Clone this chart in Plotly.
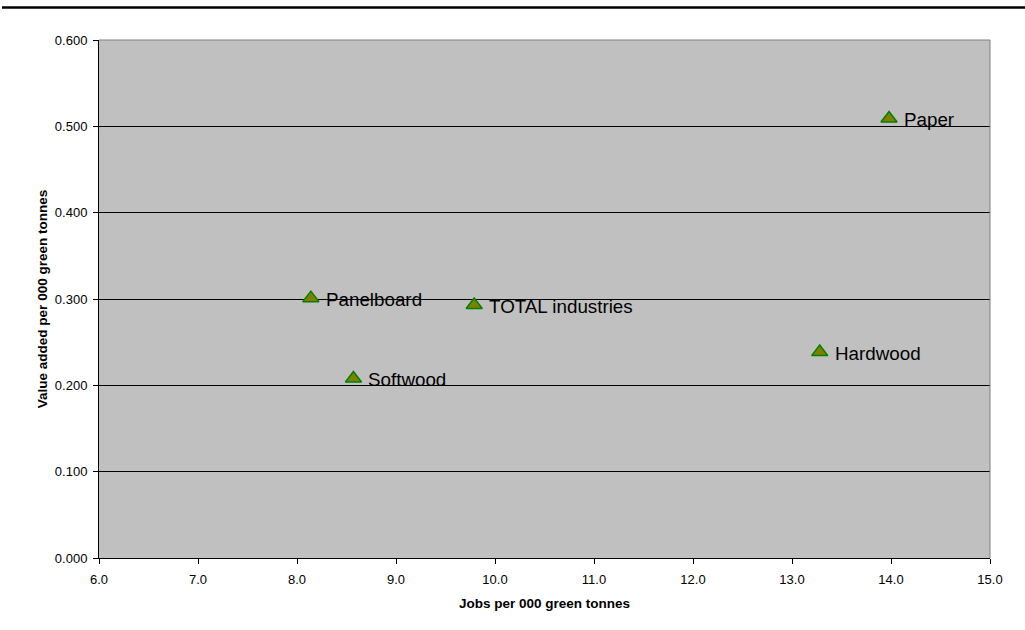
import plotly.graph_objects as go

# Data
labels = ["Paper", "Panelboard", "TOTAL industries", "Softwood", "Hardwood"]
jobs = [13.98, 8.14, 9.79, 8.57, 13.28]
value_added = [0.509, 0.301, 0.293, 0.208, 0.2385]

x_ticks = [6.0, 7.0, 8.0, 9.0, 10.0, 11.0, 12.0, 13.0, 14.0, 15.0]
y_ticks = [0.0, 0.1, 0.2, 0.3, 0.4, 0.5, 0.6]

FONT = "Arial, Liberation Sans, sans-serif"

fig = go.Figure()
fig.add_trace(go.Scatter(
    x=jobs, y=value_added, mode="markers",
    marker=dict(symbol="triangle-up", size=14, color="#808000",
                line=dict(color="#008000", width=1.5)),
    hoverinfo="skip", showlegend=False,
))

for lab, xv, yv in zip(labels, jobs, value_added):
    fig.add_annotation(x=xv, y=yv, text=lab, showarrow=False,
                       xanchor="left", yanchor="middle", xshift=13, yshift=-1,
                       font=dict(family=FONT, size=18.8, color="black"))

W, H = 1025, 630
ml, mr, mt, mb = 99, 35, 40, 72
pw, ph = W - ml - mr, H - mt - mb

# top black rule
fig.add_shape(type="line", xref="paper", yref="paper",
              x0=(2 - ml) / pw, x1=(W - ml) / pw,
              y0=(H - mb - 7.5) / ph, y1=(H - mb - 7.5) / ph,
              line=dict(color="black", width=2.5))
# gray top and right border of plot area
fig.add_shape(type="line", xref="paper", yref="paper", x0=0, x1=1, y0=1, y1=1,
              line=dict(color="#808080", width=1))
fig.add_shape(type="line", xref="paper", yref="paper", x0=1, x1=1, y0=0, y1=1,
              line=dict(color="#808080", width=1))

fig.update_layout(
    width=W, height=H,
    margin=dict(l=ml, r=mr, t=mt, b=mb),
    paper_bgcolor="white", plot_bgcolor="#C0C0C0",
    font=dict(family=FONT, size=13, color="black"),
    xaxis=dict(range=[6, 15], tickvals=x_ticks, tickformat=".1f",
               showgrid=False, zeroline=False, showline=True, linecolor="black",
               linewidth=1, ticks="outside", ticklen=5, tickcolor="black",
               tickfont=dict(size=13), ticklabelstandoff=4,
               title=dict(text="<b>Jobs per 000 green tonnes</b>", standoff=12,
                          font=dict(size=13.5))),
    yaxis=dict(range=[0, 0.6], tickvals=y_ticks, tickformat=".3f",
               showgrid=True, gridcolor="black", gridwidth=1, zeroline=False,
               showline=True, linecolor="black", linewidth=1,
               ticks="outside", ticklen=5, tickcolor="black",
               tickfont=dict(size=13), ticklabelstandoff=3,
               title=dict(text="<b>Value added per 000 green tonnes</b>", standoff=4,
                          font=dict(size=13.5))),
)

fig.write_html("out.html")
